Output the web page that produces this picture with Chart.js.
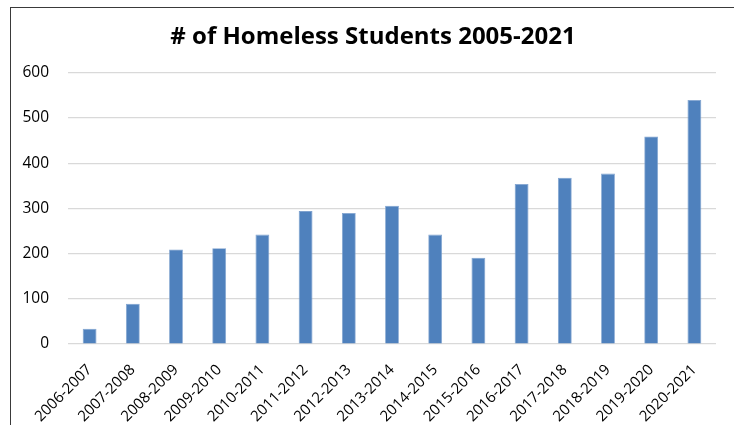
<!DOCTYPE html>
<html>
<head>
<meta charset="utf-8">
<script src="https://cdn.jsdelivr.net/npm/chart.js@4/dist/chart.umd.min.js"></script>
<style>
  html, body { margin: 0; padding: 0; background: #ffffff; }
  #wrap { position: relative; width: 734px; height: 425px; overflow: hidden; }
  #frame { position: absolute; left: 10px; top: 7px; width: 800px; height: 500px;
           border-left: 1.5px solid #3a3a3a; border-top: 1.5px solid #3a3a3a; pointer-events: none; }
  canvas { position: absolute; left: 0; top: 0; }
</style>
</head>
<body>
<div id="wrap">
  <canvas id="c" width="734" height="425"></canvas>
  <div id="frame"></div>
</div>
<script>
const titleText = "# of Homeless Students 2005-2021";
const categories = ["2006-2007","2007-2008","2008-2009","2009-2010","2010-2011","2011-2012","2012-2013","2013-2014","2014-2015","2015-2016","2016-2017","2017-2018","2018-2019","2019-2020","2020-2021"];
const students = [34, 89, 209, 212, 242, 294, 290, 306, 242, 191, 354, 368, 377, 459, 540];
const yTicks = [0, 100, 200, 300, 400, 500, 600];

new Chart(document.getElementById("c"), {
  type: "bar",
  data: {
    labels: categories,
    datasets: [{
      label: "# of Homeless Students",
      data: students,
      backgroundColor: "#4F81BD",
      borderColor: "#7FA2CF",
      borderWidth: 0.8,
      barPercentage: 0.64,
      categoryPercentage: 0.5
    }]
  },
  options: {
    responsive: false,
    animation: false,
    devicePixelRatio: 1,
    layout: { padding: { top: 14, right: 3, bottom: 0, left: 15 } },
    plugins: {
      legend: { display: false },
      tooltip: { enabled: false },
      title: {
        display: true,
        text: titleText,
        color: "#000000",
        font: { family: "'Open Sans'", size: 24, weight: "bold" },
        padding: { top: 9, bottom: 21 }
      }
    },
    scales: {
      y: {
        min: 0, max: 600,
        afterBuildTicks: (s) => { s.ticks = yTicks.map(v => ({ value: v })); },
        afterFit: (s) => { s.width = 53; },
        grid: { color: "#d9d9d9", lineWidth: 1.2, drawTicks: false },
        border: { display: false },
        ticks: { color: "#000000", padding: 19, font: { family: "'Open Sans'", size: 15.5 } }
      },
      yRight: {
        position: "right",
        min: 0, max: 600,
        afterFit: (s) => { s.width = 15; },
        grid: { display: false, drawTicks: false },
        border: { display: false },
        ticks: { display: false }
      },
      x: {
        afterFit: (s) => { s.height = 81; },
        grid: { display: false },
        border: { display: false },
        ticks: { color: "#000000", minRotation: 45, maxRotation: 45, padding: 9, autoSkip: false,
                 font: { family: "'Open Sans'", size: 15 } }
      }
    }
  }
});
</script>
</body>
</html>
